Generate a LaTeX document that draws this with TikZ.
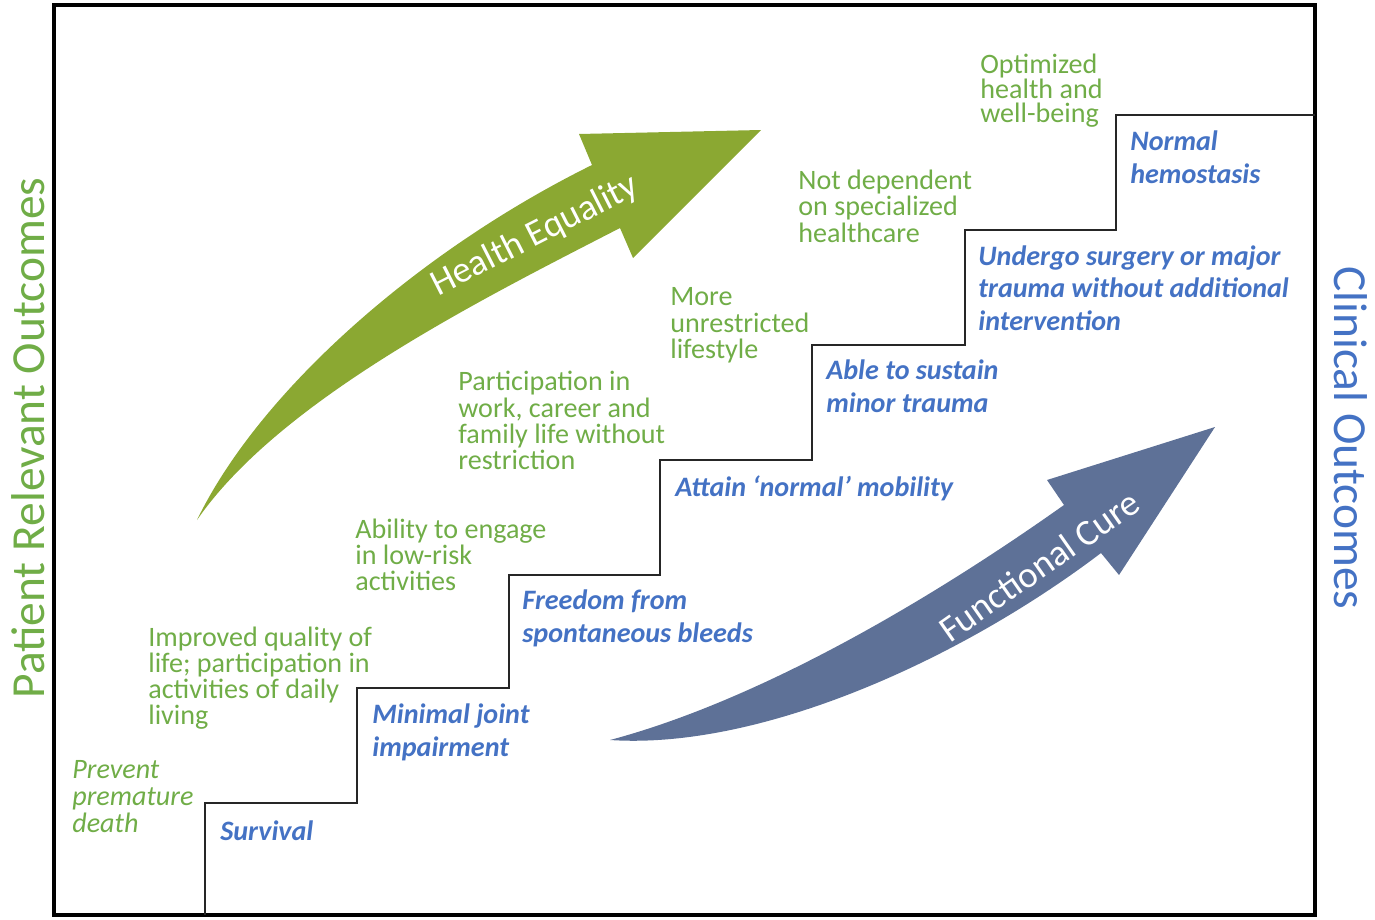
\documentclass[tikz,border=0pt]{standalone}
\usepackage{fontspec}
\setmainfont{Carlito}
\definecolor{patgreen}{HTML}{70AD47}
\definecolor{clinblue}{HTML}{4472C4}
\definecolor{equgreen}{HTML}{8BA832}
\definecolor{cureblue}{HTML}{5E7197}
\tikzset{%
	patient/.style  = {text=patgreen, align=left, anchor=base west, inner sep=0pt,
		font=\fontsize{16}{14.8}\selectfont}, % Patient outcome
	clinical/.style = {text=clinblue, align=left, anchor=base west, inner sep=0pt,
		font=\fontsize{16}{18.3}\selectfont\bfseries\itshape}, % Clinical outcome
	axislabel/.style = {anchor=base, inner sep=0pt, font=\fontsize{27}{30}\selectfont},
	arrowtext/.style = {text=white, inner sep=0pt, font=\fontsize{21}{24}\selectfont},
	stair/.style    = {line width=1.1pt, black!85}
}

\begin{document}
\begin{tikzpicture}[x=0.02cm,y=-0.02cm]
			\useasboundingbox (0,0) rectangle (1375,919);
			\draw[line width=2.8pt] (54,5) rectangle (1315,915);

			\fill[equgreen] (197,520) .. controls (260,390) and (420,250) .. (592,165) -- (579,134) -- (761,130) -- (633,258) -- (620,228) .. controls (480,300) and (280,400) .. (197,520) -- cycle;
			\fill[cureblue] (610,740) .. controls (760,700) and (930,600) .. (1064,505) -- (1047,480) -- (1215,427) -- (1119,575) -- (1101,553) .. controls (960,660) and (760,750) .. (610,740) -- cycle;
			\node[arrowtext, rotate=27] (equality) at (535,236) {Health Equality};
			\node[arrowtext, rotate=35] (cure) at (1039,566) {Functional Cure};

			\draw[stair] (205,915) |- (357,803) |- (509,688) |- (660,575) |- (812,460) |- (965,345) |- (1116,230) |- (1315,115);

			\node[axislabel, text=patgreen, rotate=90]  (patlabel)  at (44,438)   {Patient Relevant Outcomes};
			\node[axislabel, text=clinblue, rotate=-90] (clinlabel) at (1334,438) {Clinical Outcomes};

			% base anchor sits on the last line
			\node[patient, font=\fontsize{16}{15.3}\selectfont\itshape] (death) at (72,832) {Prevent\\premature\\death};
			\node[patient]  (quality)  at (148,724) {Improved quality of\\life; participation in\\activities of daily\\living};
			\node[patient]  (ability)  at (355,590) {Ability to engage\\in low-risk\\activities};
			\node[patient]  (work)     at (458,469) {Participation in\\work, career and\\family life without\\restriction};
			\node[patient]  (lifestyle) at (670,358) {More\\unrestricted\\lifestyle};
			\node[patient]  (care)     at (798,242) {Not dependent\\on specialized\\healthcare};
			\node[patient, font=\fontsize{16}{13.1}\selectfont] (wellbeing) at (980,122) {Optimized\\health and\\well-being};

			\node[clinical] (survival)  at (220,840) {Survival};
			\node[clinical] (joint)     at (372,756) {Minimal joint\\impairment};
			\node[clinical] (bleeds)    at (522,642) {Freedom from\\spontaneous bleeds};
			\node[clinical] (mobility)  at (675,496) {Attain ‘normal’ mobility};
			\node[clinical] (trauma)    at (826,412) {Able to sustain\\minor trauma};
			\node[clinical] (surgery)   at (978,330) {Undergo surgery or major\\trauma without additional\\intervention};
			\node[clinical] (hemostasis) at (1130,183) {Normal\\hemostasis};
		\end{tikzpicture}
\end{document}
